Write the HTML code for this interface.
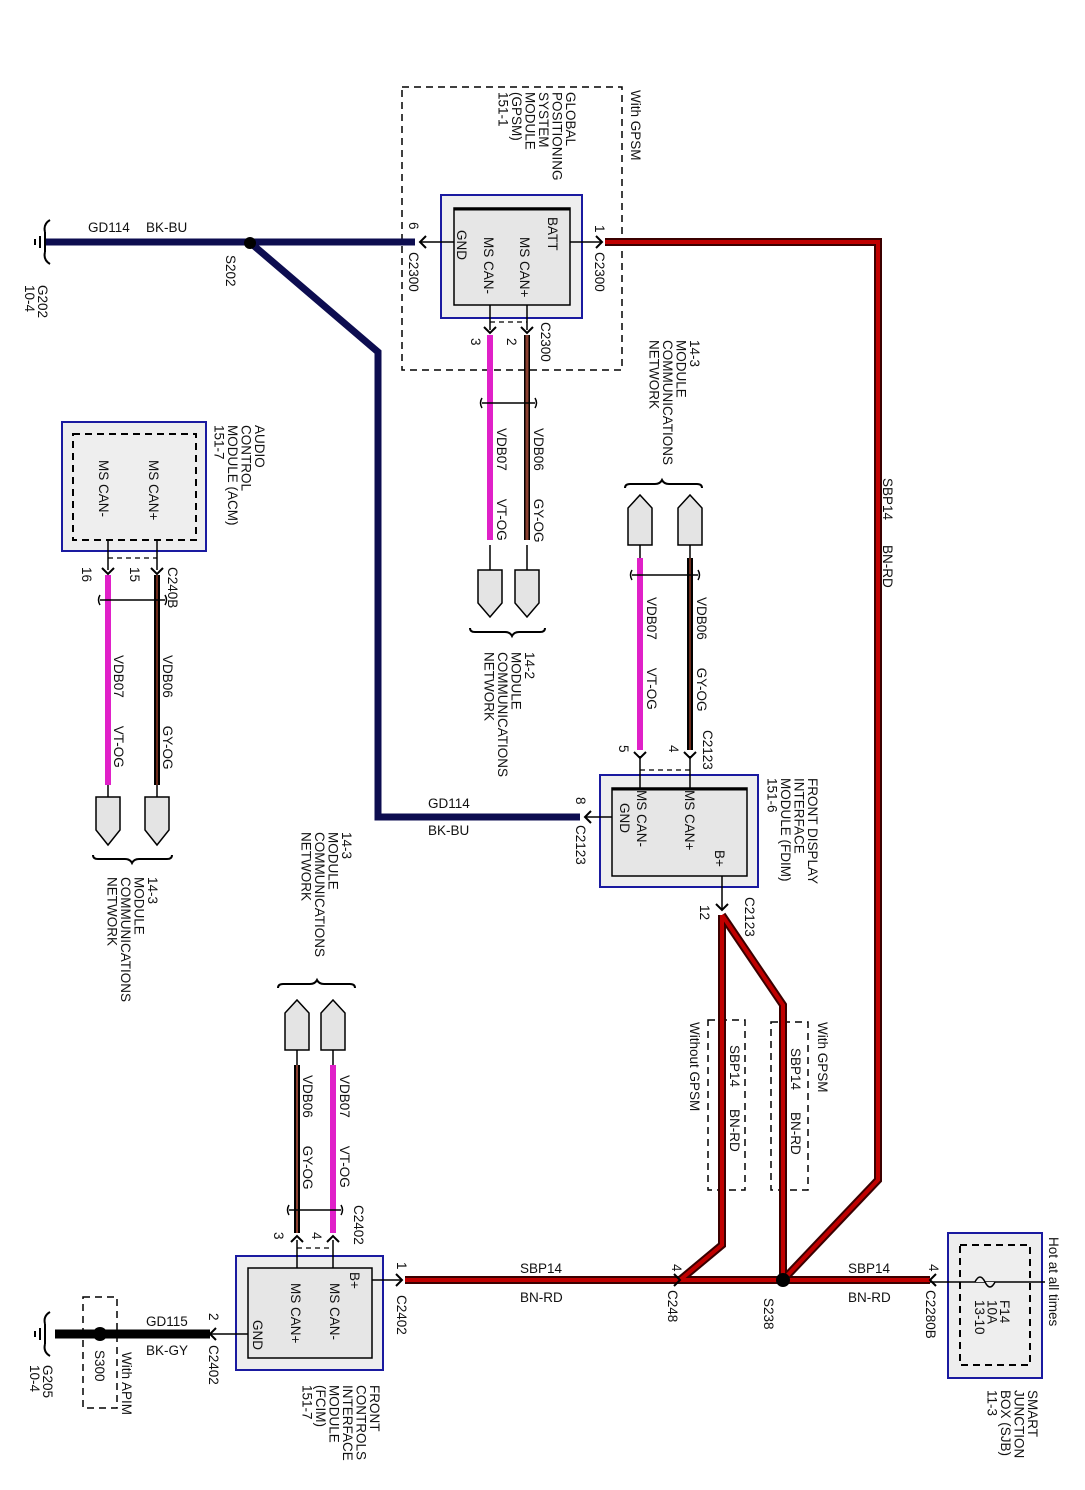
<!DOCTYPE html>
<html><head><meta charset="utf-8"><style>
html,body{margin:0;padding:0;background:#fff}
svg{display:block}
text{font-family:"Liberation Sans",sans-serif;font-size:13.5px;fill:#111}
</style></head><body>
<svg width="1085" height="1490" viewBox="0 0 1085 1490" xmlns="http://www.w3.org/2000/svg">

<!-- ===== Dashed boxes ===== -->
<g fill="none" stroke="#000" stroke-width="1.5" stroke-dasharray="7,5">
<rect x="402" y="87" width="220" height="283"/>
<rect x="708" y="1020" width="37" height="170"/>
<rect x="771" y="1022" width="37" height="168"/>
<rect x="83" y="1297" width="34" height="111"/>
</g>

<!-- ===== Module boxes ===== -->
<rect x="441" y="195" width="141" height="123" fill="#eeeeee" stroke="#1a1aa0" stroke-width="2"/>
<rect x="454" y="208" width="116" height="97" fill="#e6e6e6" stroke="#000" stroke-width="1.5"/>
<line x1="454" y1="209" x2="570" y2="209" stroke="#000" stroke-width="3"/>
<rect x="600" y="775" width="158" height="112" fill="#eeeeee" stroke="#1a1aa0" stroke-width="2"/>
<rect x="612" y="788" width="135" height="88" fill="#e6e6e6" stroke="#000" stroke-width="1.5"/>
<line x1="612" y1="789" x2="747" y2="789" stroke="#000" stroke-width="3"/>
<rect x="62" y="422" width="144" height="129" fill="#eeeeee" stroke="#1a1aa0" stroke-width="2"/>
<rect x="73" y="434" width="123" height="106" fill="none" stroke="#000" stroke-width="2" stroke-dasharray="7,5"/>
<rect x="236" y="1256" width="147" height="114" fill="#eeeeee" stroke="#1a1aa0" stroke-width="2"/>
<rect x="248" y="1268" width="124" height="90" fill="#e6e6e6" stroke="#000" stroke-width="1.5"/>
<rect x="948" y="1233" width="94" height="145" fill="#eeeeee" stroke="#1a1aa0" stroke-width="2"/>
<rect x="960" y="1245" width="70" height="120" fill="none" stroke="#000" stroke-width="2" stroke-dasharray="7,5"/>

<g fill="none" stroke="#000" stroke-width="1.2" stroke-dasharray="5,4">
<line x1="490" y1="322" x2="527" y2="322"/>
<line x1="640" y1="770" x2="690" y2="770"/>
<line x1="108" y1="558" x2="157" y2="558"/>
<line x1="297" y1="1248" x2="333" y2="1248"/>
</g>

<!-- ===== Blue wires ===== -->
<g fill="none" stroke="#0d0d50" stroke-width="7" stroke-linejoin="miter">
<line x1="45" y1="242" x2="415" y2="242"/>
<polyline points="253,245 378,352 378,817 580,817"/>
</g>

<!-- ===== Red wires ===== -->
<g fill="none" stroke-linejoin="miter">
<g stroke="#3a0000" stroke-width="8">
<polyline points="605,242 878,242 878,1180 783,1280"/>
<line x1="405" y1="1280" x2="930" y2="1280"/>
<polyline points="722,915 722,1245 680,1280"/>
<polyline points="722,915 783,1005 783,1280"/>
</g>
<g stroke="#c00000" stroke-width="4">
<polyline points="605,242 878,242 878,1180 783,1280"/>
<line x1="405" y1="1280" x2="930" y2="1280"/>
<polyline points="722,915 722,1245 680,1280"/>
<polyline points="722,915 783,1005 783,1280"/>
</g>
</g>

<line x1="55" y1="1334" x2="210" y2="1334" stroke="#000" stroke-width="9"/>
<line x1="210" y1="1334" x2="248" y2="1334" stroke="#000" stroke-width="1.5"/>

<g stroke="#000" stroke-width="1.5">
<line x1="420" y1="242" x2="454" y2="242"/>
<line x1="570" y1="242" x2="602" y2="242"/>
<line x1="490" y1="305" x2="490" y2="330"/>
<line x1="527" y1="305" x2="527" y2="330"/>
<line x1="585" y1="817" x2="612" y2="817"/>
<line x1="640" y1="756" x2="640" y2="788"/>
<line x1="690" y1="756" x2="690" y2="788"/>
<line x1="722" y1="876" x2="722" y2="910"/>
<line x1="108" y1="540" x2="108" y2="570"/>
<line x1="157" y1="540" x2="157" y2="570"/>
<line x1="297" y1="1240" x2="297" y2="1268"/>
<line x1="333" y1="1240" x2="333" y2="1268"/>
<line x1="372" y1="1280" x2="402" y2="1280"/>
<line x1="930" y1="1282" x2="1045" y2="1282"/>
<line x1="490" y1="545" x2="490" y2="570"/>
<line x1="527" y1="545" x2="527" y2="570"/>
<line x1="640" y1="545" x2="640" y2="558"/>
<line x1="690" y1="545" x2="690" y2="558"/>
<line x1="108" y1="785" x2="108" y2="797"/>
<line x1="157" y1="785" x2="157" y2="797"/>
<line x1="297" y1="1050" x2="297" y2="1065"/>
<line x1="333" y1="1050" x2="333" y2="1065"/>
</g>

<g fill="none">
<line x1="490" y1="335" x2="490" y2="540" stroke="#e020c8" stroke-width="6"/>
<line x1="527" y1="335" x2="527" y2="540" stroke="#000" stroke-width="6"/>
<line x1="527" y1="335" x2="527" y2="540" stroke="#8a4030" stroke-width="3"/>
<line x1="640" y1="558" x2="640" y2="750" stroke="#e020c8" stroke-width="6"/>
<line x1="690" y1="558" x2="690" y2="750" stroke="#000" stroke-width="6"/>
<line x1="690" y1="558" x2="690" y2="750" stroke="#6b2a1a" stroke-width="2"/>
<line x1="108" y1="575" x2="108" y2="785" stroke="#e020c8" stroke-width="6"/>
<line x1="157" y1="575" x2="157" y2="785" stroke="#000" stroke-width="6"/>
<line x1="157" y1="575" x2="157" y2="785" stroke="#6b2a1a" stroke-width="2"/>
<line x1="333" y1="1065" x2="333" y2="1233" stroke="#e020c8" stroke-width="6"/>
<line x1="297" y1="1065" x2="297" y2="1233" stroke="#000" stroke-width="6"/>
<line x1="297" y1="1065" x2="297" y2="1233" stroke="#8a4030" stroke-width="2"/>
</g>

<g fill="none" stroke="#000" stroke-width="1.5">
<path d="M482,403 L535,403 M482,398 q-3,5 0,10 M535,398 q3,5 0,10"/>
<path d="M632,575 L698,575 M632,570 q-3,5 0,10 M698,570 q3,5 0,10"/>
<path d="M100,600 L165,600 M100,595 q-3,5 0,10 M165,595 q3,5 0,10"/>
<path d="M289,1210 L341,1210 M289,1205 q-3,5 0,10 M341,1205 q3,5 0,10"/>
</g>

<g fill="none" stroke="#000" stroke-width="2">
<path d="M426,236 L420,242 L426,248"/>
<path d="M596,236 L602,242 L596,248"/>
<path d="M484,327 L490,333 L496,327"/>
<path d="M521,327 L527,333 L533,327"/>
<path d="M634,752 L640,758 L646,752"/>
<path d="M684,752 L690,758 L696,752"/>
<path d="M591,811 L585,817 L591,823"/>
<path d="M716,904 L722,910 L728,904"/>
<path d="M102,568 L108,574 L114,568"/>
<path d="M151,568 L157,574 L163,568"/>
<path d="M291,1242 L297,1236 L303,1242"/>
<path d="M327,1242 L333,1236 L339,1242"/>
<path d="M396,1274 L402,1280 L396,1286"/>
<path d="M216,1328 L210,1334 L216,1340"/>
<path d="M936,1274 L930,1280 L936,1286"/>
<path d="M674,1274 L680,1280 L674,1286"/>
</g>

<circle cx="250" cy="243" r="6" fill="#000"/>
<circle cx="783" cy="1280" r="7" fill="#000"/>
<circle cx="100" cy="1334" r="7" fill="#000"/>

<path d="M975,1282 q5,-10 10,0 q5,10 10,0" fill="#eee" stroke="#000" stroke-width="1.5"/>

<g fill="none" stroke="#000" stroke-width="2">
<path d="M45,232 L45,252 M40,236 L40,248 M35,239 L35,245 M45,232 q-2,-8 5,-12 M45,252 q-2,8 5,12"/>
<path d="M45,1324 L45,1344 M40,1328 L40,1340 M35,1331 L35,1337 M45,1324 q-2,-8 5,-12 M45,1344 q-2,8 5,12"/>
</g>

<g fill="#e4e4e4" stroke="#000" stroke-width="1.5">
<path d="M478,570 L502,570 L502,603 L490,617 L478,603 Z"/>
<path d="M515,570 L539,570 L539,603 L527,617 L515,603 Z"/>
<path d="M96,797 L120,797 L120,830 L108,845 L96,830 Z"/>
<path d="M145,797 L169,797 L169,830 L157,845 L145,830 Z"/>
<path d="M628,545 L652,545 L652,508 L640,495 L628,508 Z"/>
<path d="M678,545 L702,545 L702,508 L690,495 L678,508 Z"/>
<path d="M285,1050 L309,1050 L309,1013 L297,1000 L285,1013 Z"/>
<path d="M321,1050 L345,1050 L345,1013 L333,1000 L321,1013 Z"/>
</g>

<g fill="none" stroke="#000" stroke-width="2">
<path d="M470,628 q0,4 5,4 L505,632 q5,0 7,4 q2,-4 7,-4 L540,632 q5,0 5,-4"/>
<path d="M625,488 q0,-4 5,-4 L655,484 q5,0 7,-4 q2,4 7,4 L697,484 q5,0 5,4"/>
<path d="M93,855 q0,4 5,4 L125,859 q5,0 7,4 q2,-4 7,-4 L167,859 q5,0 5,-4"/>
<path d="M278,988 q0,-4 5,-4 L310,984 q5,0 7,-4 q2,4 7,4 L350,984 q5,0 5,4"/>
</g>

<text x="88" y="232">GD114</text><text x="146" y="232">BK-BU</text>
<text x="428" y="808">GD114</text><text x="428" y="835">BK-BU</text>
<text x="520" y="1273">SBP14</text><text x="520" y="1302">BN-RD</text>
<text x="848" y="1273">SBP14</text><text x="848" y="1302">BN-RD</text>
<text x="146" y="1326">GD115</text><text x="146" y="1355">BK-GY</text>

<g>
<text transform="translate(631,90) rotate(90)">With GPSM</text>
<text transform="translate(566,92) rotate(90)"><tspan x="0">GLOBAL</tspan><tspan x="0" dy="13.5">POSITIONING</tspan><tspan x="0" dy="13.5">SYSTEM</tspan><tspan x="0" dy="13.5">MODULE</tspan><tspan x="0" dy="13.5">(GPSM)</tspan><tspan x="0" dy="13.5">151-1</tspan></text>
<text transform="translate(548,217) rotate(90)">BATT</text>
<text transform="translate(520,237) rotate(90)">MS CAN+</text>
<text transform="translate(484,237) rotate(90)">MS CAN-</text>
<text transform="translate(457,230) rotate(90)">GND</text>
<text transform="translate(409,222) rotate(90)">6</text>
<text transform="translate(409,252) rotate(90)">C2300</text>
<text transform="translate(595,225) rotate(90)">1</text>
<text transform="translate(595,252) rotate(90)">C2300</text>
<text transform="translate(541,322) rotate(90)">C2300</text>
<text transform="translate(471,338) rotate(90)">3</text>
<text transform="translate(507,338) rotate(90)">2</text>
<text transform="translate(226,255) rotate(90)">S202</text>
<text transform="translate(38,285) rotate(90)"><tspan x="0">G202</tspan><tspan x="0" dy="13">10-4</tspan></text>

<text transform="translate(497,428) rotate(90)">VDB07<tspan dx="28">VT-OG</tspan></text>
<text transform="translate(534,428) rotate(90)">VDB06<tspan dx="28">GY-OG</tspan></text>
<text transform="translate(525,652) rotate(90)"><tspan x="0">14-2</tspan><tspan x="0" dy="13.5">MODULE</tspan><tspan x="0" dy="13.5">COMMUNICATIONS</tspan><tspan x="0" dy="13.5">NETWORK</tspan></text>

<text transform="translate(690,340) rotate(90)"><tspan x="0">14-3</tspan><tspan x="0" dy="13.5">MODULE</tspan><tspan x="0" dy="13.5">COMMUNICATIONS</tspan><tspan x="0" dy="13.5">NETWORK</tspan></text>
<text transform="translate(647,597) rotate(90)">VDB07<tspan dx="28">VT-OG</tspan></text>
<text transform="translate(697,597) rotate(90)">VDB06<tspan dx="28">GY-OG</tspan></text>
<text transform="translate(703,730) rotate(90)">C2123</text>
<text transform="translate(669,745) rotate(90)">4</text>
<text transform="translate(619,745) rotate(90)">5</text>

<text transform="translate(808,778) rotate(90)"><tspan x="0">FRONT DISPLAY</tspan><tspan x="0" dy="13.5">INTERFACE</tspan><tspan x="0" dy="13.5">MODULE (FDIM)</tspan><tspan x="0" dy="13.5">151-6</tspan></text>
<text transform="translate(685,790) rotate(90)">MS CAN+</text>
<text transform="translate(637,790) rotate(90)">MS CAN-</text>
<text transform="translate(620,803) rotate(90)">GND</text>
<text transform="translate(715,850) rotate(90)">B+</text>
<text transform="translate(745,897) rotate(90)">C2123</text>
<text transform="translate(700,905) rotate(90)">12</text>
<text transform="translate(576,797) rotate(90)">8</text>
<text transform="translate(576,825) rotate(90)">C2123</text>

<text transform="translate(883,478) rotate(90)">SBP14<tspan dx="25">BN-RD</tspan></text>
<text transform="translate(730,1045) rotate(90)">SBP14<tspan dx="22">BN-RD</tspan></text>
<text transform="translate(690,1022) rotate(90)">Without GPSM</text>
<text transform="translate(818,1022) rotate(90)">With GPSM</text>
<text transform="translate(791,1048) rotate(90)">SBP14<tspan dx="22">BN-RD</tspan></text>

<text transform="translate(255,425) rotate(90)"><tspan x="0">AUDIO</tspan><tspan x="0" dy="13.5">CONTROL</tspan><tspan x="0" dy="13.5">MODULE (ACM)</tspan><tspan x="0" dy="13.5">151-7</tspan></text>
<text transform="translate(149,460) rotate(90)">MS CAN+</text>
<text transform="translate(99,460) rotate(90)">MS CAN-</text>
<text transform="translate(82,567) rotate(90)">16</text>
<text transform="translate(130,567) rotate(90)">15</text>
<text transform="translate(168,567) rotate(90)">C240B</text>
<text transform="translate(114,655) rotate(90)">VDB07<tspan dx="28">VT-OG</tspan></text>
<text transform="translate(163,655) rotate(90)">VDB06<tspan dx="28">GY-OG</tspan></text>
<text transform="translate(148,877) rotate(90)"><tspan x="0">14-3</tspan><tspan x="0" dy="13.5">MODULE</tspan><tspan x="0" dy="13.5">COMMUNICATIONS</tspan><tspan x="0" dy="13.5">NETWORK</tspan></text>

<text transform="translate(342,832) rotate(90)"><tspan x="0">14-3</tspan><tspan x="0" dy="13.5">MODULE</tspan><tspan x="0" dy="13.5">COMMUNICATIONS</tspan><tspan x="0" dy="13.5">NETWORK</tspan></text>
<text transform="translate(340,1075) rotate(90)">VDB07<tspan dx="28">VT-OG</tspan></text>
<text transform="translate(303,1075) rotate(90)">VDB06<tspan dx="28">GY-OG</tspan></text>
<text transform="translate(354,1205) rotate(90)">C2402</text>
<text transform="translate(274,1232) rotate(90)">3</text>
<text transform="translate(312,1232) rotate(90)">4</text>

<text transform="translate(370,1385) rotate(90)"><tspan x="0">FRONT</tspan><tspan x="0" dy="13.5">CONTROLS</tspan><tspan x="0" dy="13.5">INTERFACE</tspan><tspan x="0" dy="13.5">MODULE</tspan><tspan x="0" dy="13.5">(FCIM)</tspan><tspan x="0" dy="13.5">151-7</tspan></text>
<text transform="translate(350,1272) rotate(90)">B+</text>
<text transform="translate(330,1283) rotate(90)">MS CAN-</text>
<text transform="translate(291,1283) rotate(90)">MS CAN+</text>
<text transform="translate(253,1320) rotate(90)">GND</text>
<text transform="translate(397,1262) rotate(90)">1</text>
<text transform="translate(397,1295) rotate(90)">C2402</text>
<text transform="translate(209,1313) rotate(90)">2</text>
<text transform="translate(209,1345) rotate(90)">C2402</text>
<text transform="translate(122,1352) rotate(90)">With APIM</text>
<text transform="translate(95,1350) rotate(90)">S300</text>
<text transform="translate(43,1365) rotate(90)"><tspan x="0">G205</tspan><tspan x="0" dy="13">10-4</tspan></text>

<text transform="translate(672,1264) rotate(90)">4</text>
<text transform="translate(668,1290) rotate(90)">C248</text>
<text transform="translate(764,1298) rotate(90)">S238</text>
<text transform="translate(929,1264) rotate(90)">4</text>
<text transform="translate(926,1290) rotate(90)">C2280B</text>
<text transform="translate(1049,1237) rotate(90)">Hot at all times</text>
<text transform="translate(1000,1300) rotate(90)"><tspan x="0">F14</tspan><tspan x="0" dy="12.5">10A</tspan><tspan x="0" dy="12.5">13-10</tspan></text>
<text transform="translate(1028,1390) rotate(90)"><tspan x="0">SMART</tspan><tspan x="0" dy="13.5">JUNCTION</tspan><tspan x="0" dy="13.5">BOX (SJB)</tspan><tspan x="0" dy="13.5">11-3</tspan></text>
</g>
</svg>
</body></html>
